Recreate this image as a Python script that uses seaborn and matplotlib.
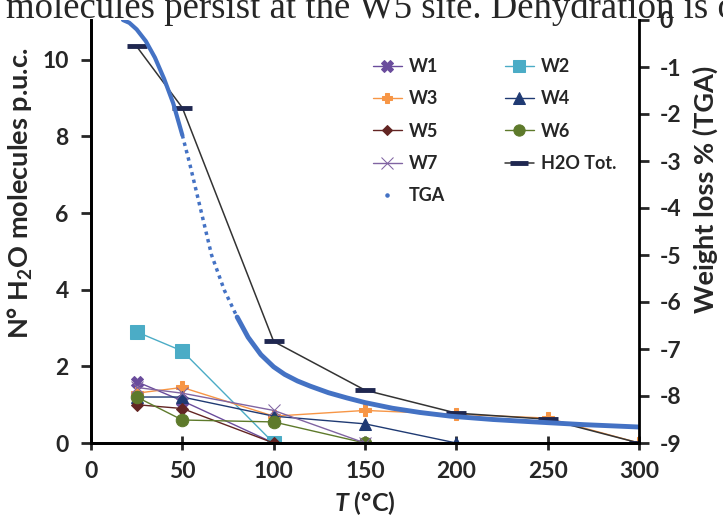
import seaborn as sns
import matplotlib.pyplot as plt
from matplotlib.lines import Line2D

# temperatures (°C) for the water sites
temps = [25, 50, 100, 150, 200, 250, 300]

w1 = [1.6, 1.1, 0.0]
w2 = [2.9, 2.4, 0.0]
w3 = [1.3, 1.45, 0.7, 0.85, 0.75, 0.65, 0.0]
w4 = [1.2, 1.2, 0.7, 0.5, 0.0]
w5 = [1.0, 0.9, 0.0]
w6 = [1.2, 0.6, 0.55, 0.0]
w7 = [1.45, 1.3, 0.85, 0.0]
h2o_tot = [10.35, 8.75, 2.65, 1.38, 0.78, 0.62, 0.0]

# TGA curve (weight loss %)
tga_t = [17.5, 21, 25, 30, 35, 40, 45, 50, 54, 66, 73, 80, 86, 93, 100, 106, 113, 120, 130, 140, 150,
         165, 180, 197, 220, 242, 270, 300]
tga_w = [0.0, -0.06, -0.2, -0.45, -0.8, -1.25, -1.77, -2.45, -3.05, -5.0, -5.75, -6.32, -6.75, -7.12,
         -7.38, -7.54, -7.68, -7.79, -7.93, -8.04, -8.14, -8.26, -8.35, -8.43, -8.5, -8.55, -8.61, -8.66]

sns.set_style('ticks')
plt.rcParams['font.family'] = ['Lato', 'DejaVu Sans']
plt.rcParams['font.weight'] = 'bold'
plt.rcParams['axes.unicode_minus'] = False
plt.rcParams['mathtext.fontset'] = 'custom'
plt.rcParams['mathtext.rm'] = 'Lato:bold'
plt.rcParams['mathtext.bf'] = 'Lato:bold'
plt.rcParams['mathtext.it'] = 'Lato:italic:bold'

fig = plt.figure(figsize=(7.23, 5.21), dpi=100)
ax = fig.add_axes([91 / 723, 78 / 521, 548 / 723, 423 / 521])
ax2 = ax.twinx()

series = [
    ('W1', temps[:3], w1, '#6A4C9C', 'X', 9),
    ('W2', temps[:3], w2, '#4BACC6', 's', 10),
    ('W3', temps, w3, '#F79646', 'P', 8),
    ('W4', temps[:5], w4, '#1F3A73', '^', 9),
    ('W5', temps[:3], w5, '#632523', 'D', 6),
    ('W6', temps[:4], w6, '#5E7A2B', 'o', 9),
    ('W7', temps[:4], w7, '#8064A2', 'x', 9),
]
for name, xs, ys, col, mk, ms in series:
    sns.lineplot(x=xs, y=ys, ax=ax, color=col, marker=mk, markersize=ms, markeredgecolor=col,
                 linewidth=1, label=name, sort=False)

sns.lineplot(x=temps, y=h2o_tot, ax=ax, color='#333333', marker='_', markersize=14,
             markeredgewidth=3.5, markeredgecolor='#1F2750', linewidth=1.1, label='H2O Tot.', sort=False)

# TGA: solid where sampling is dense, dotted in the steep part
blue = '#4472C4'
sns.lineplot(x=tga_t[:8], y=tga_w[:8], ax=ax2, color=blue, linewidth=3, sort=False)
sns.lineplot(x=tga_t[7:12], y=tga_w[7:12], ax=ax2, color=blue, linewidth=2.5, linestyle=(0, (1, 1.2)), sort=False)
sns.lineplot(x=tga_t[11:], y=tga_w[11:], ax=ax2, color=blue, linewidth=3.5, sort=False)
if ax2.get_legend():
    ax2.get_legend().remove()

ax.set_xlim(0, 300)
ax.set_ylim(0, 11.04)
ax2.set_ylim(-9, 0)
ax.set_xticks([0, 50, 100, 150, 200, 250, 300])
ax.set_yticks([0, 2, 4, 6, 8, 10])
ax2.set_yticks(list(range(-9, 1)))

for a in (ax, ax2):
    a.spines['top'].set_visible(False)
    for s in ('left', 'bottom', 'right'):
        a.spines[s].set_linewidth(2)
        a.spines[s].set_color('black')
ax.spines['right'].set_visible(False)

ax.tick_params(axis='y', direction='out', length=7, width=2, pad=9, labelsize=16.5)
ax.tick_params(axis='x', direction='inout', length=10, width=2, pad=8, labelsize=16.5)
ax2.tick_params(axis='y', direction='out', length=7, width=2, pad=8, labelsize=16.5)

ax.set_xlabel('$\\mathit{T}$ (°C)', fontsize=18, fontweight='bold')
ax.set_ylabel('N° H$_2$O molecules p.u.c.', fontsize=19.5, fontweight='bold')
ax2.set_ylabel('Weight loss % (TGA)', fontsize=19.5, fontweight='bold')
ax.xaxis.set_label_coords(0.5, -0.109)
ax.yaxis.set_label_coords(-0.103, 0.59)
ax2.yaxis.set_label_coords(1.098, 0.6)

handles, labels = ax.get_legend_handles_labels()
hmap = dict(zip(labels, handles))
hmap['TGA'] = Line2D([], [], linestyle='none', marker='.', color=blue, markersize=5)
order = ['W1', 'W3', 'W5', 'W7', 'TGA', 'W2', 'W4', 'W6', 'H2O Tot.']
leg = ax.legend([hmap[k] for k in order], order, ncol=2, frameon=False, fontsize=13,
                loc='upper left', bbox_to_anchor=(373 / 723, 1 - 58 / 521), bbox_transform=fig.transFigure,
                borderpad=0, borderaxespad=0, handlelength=1.6, handletextpad=0.4, columnspacing=3.3,
                labelspacing=0.85, markerscale=0.9)
for t in leg.get_texts():
    t.set_fontweight('bold')

# clipped line of text from the page above the figure
fig.text(0.008, 1 - 18 / 521, 'molecules persist at the W5 site. Dehydration is c',
         family=['Liberation Serif', 'DejaVu Serif'], fontsize=26.5, fontweight='normal', va='baseline')

fig.savefig('out.png', dpi=100)
